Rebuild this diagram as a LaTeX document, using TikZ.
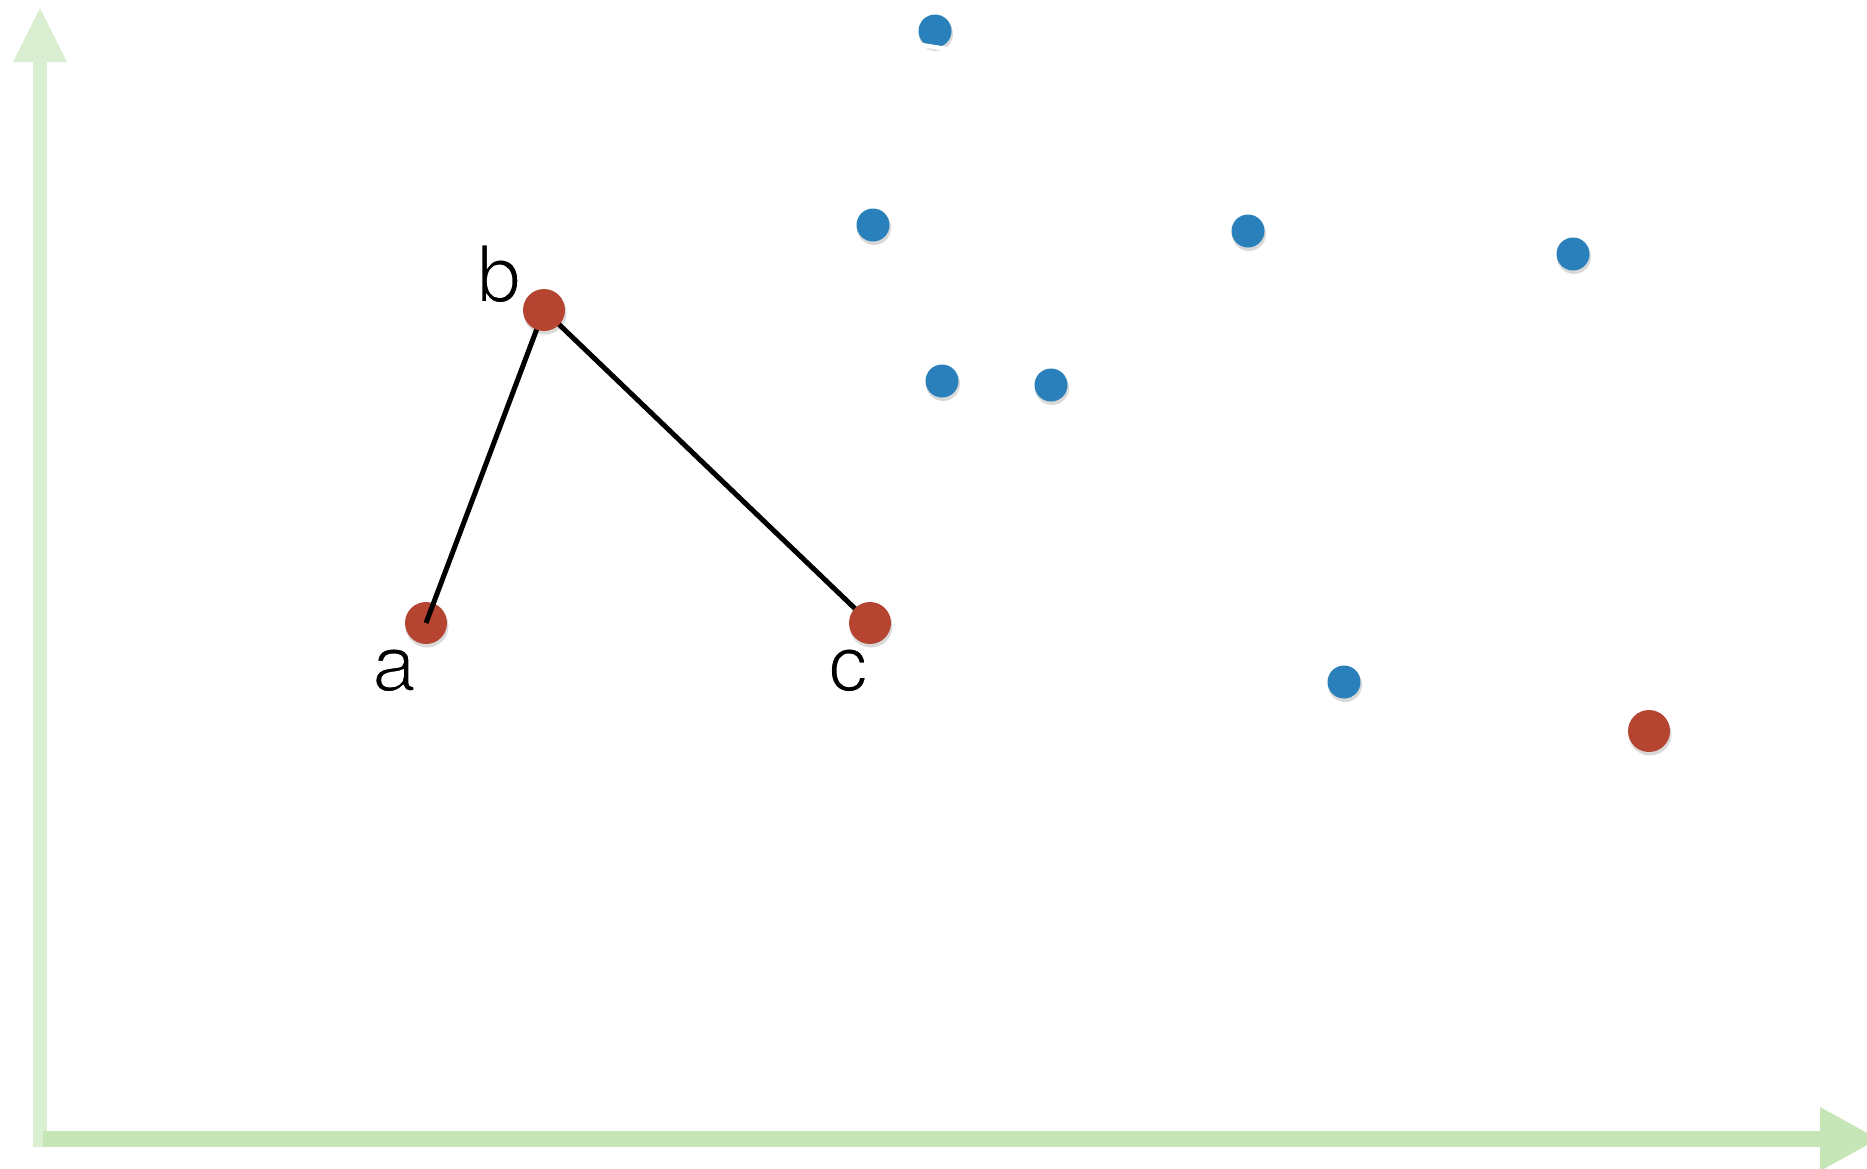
\documentclass[tikz,border=0pt]{standalone}
\usepackage{fontspec}
\setmainfont{TeX Gyre Heros}
\newcommand{\thintext}[1]{\special{pdf:literal direct 2 Tr 1 1 1 RG 2 w}#1\special{pdf:literal direct 0 Tr 0 0 0 RG}}
\begin{document}
\begin{tikzpicture}[x=1pt,y=-1pt,
  dotshadow/.style={fill=black,opacity=0.15},
  bluedot/.style={circle,fill=dotblue,minimum size=33pt,inner sep=0pt},
  reddot/.style={circle,fill=dotred,minimum size=42pt,inner sep=0pt},
  edge/.style={line width=5pt,black},
  lbl/.style={font=\fontsize{79}{80}\selectfont,anchor=base,inner sep=0pt},
  yaxis/.style={fill=axisy},
  xaxis/.style={fill=axisx}]
\definecolor{dotblue}{RGB}{42,128,186}
\definecolor{dotred}{RGB}{181,68,48}
\definecolor{axisy}{RGB}{218,238,210}
\definecolor{axisx}{RGB}{199,230,183}
\useasboundingbox (0,0) rectangle (1867,1168);
\fill[white] (0,0) rectangle (1867,1168);
% axes
\fill[yaxis] (33,62) rectangle (47,1147);
\fill[yaxis] (40,8) -- (67,62) -- (13,62) -- cycle;
\fill[xaxis] (43,1131) rectangle (1820,1147);
\fill[xaxis] (1820,1107) -- (1878,1139) -- (1820,1171) -- cycle;
% shadows
\foreach \x/\y in {935/31,873/225,1248/231,1573/254,942/381,1051/385,1344/682}
  \fill[dotshadow] (\x+1,\y+3) circle (17);
\foreach \x/\y in {426/623,544/310,870/623,1649/731}
  \fill[dotshadow] (\x+1,\y+3) circle (21.5);
% blue points
\node[bluedot] (p1) at (935,31) {};
\node[bluedot] (p2) at (873,225) {};
\node[bluedot] (p3) at (1248,231) {};
\node[bluedot] (p4) at (1573,254) {};
\node[bluedot] (p5) at (942,381) {};
\node[bluedot] (p6) at (1051,385) {};
\node[bluedot] (p7) at (1344,682) {};
\fill[white] (917,42) -- (954,48) -- (954,53) -- (917,46) -- cycle;
% red points and edges
\node[reddot] (a) at (426,623) {};
\coordinate (bpos) at (544,310);
\coordinate (cpos) at (870,623);
\draw[edge] (a.center) -- (bpos);
\draw[edge] (bpos) -- (cpos);
\node[reddot] (b) at (bpos) {};
\node[reddot] (c) at (cpos) {};
\node[reddot] (d) at (1649,731) {};
% labels
\node[lbl] (la) at (394,691) {\thintext{a}};
\node[lbl] (lb) at (499,302) {\thintext{b}};
\node[lbl] (lc) at (848,691) {\thintext{c}};
\end{tikzpicture}
\end{document}
